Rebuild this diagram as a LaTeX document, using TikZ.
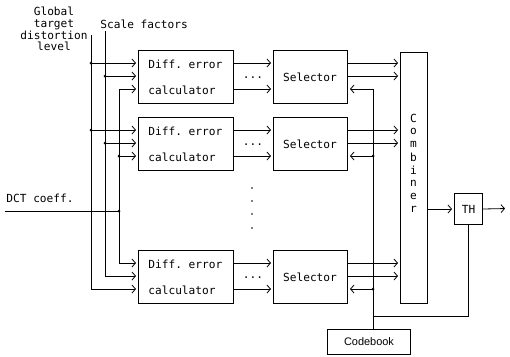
\documentclass[tikz,border=0pt]{standalone}
\usepackage{fontspec}
\setmonofont{DejaVu Sans Mono}
\setsansfont{Liberation Sans}
\usetikzlibrary{arrows.meta,calc}
\begin{document}
\begin{tikzpicture}[x=1bp,y=-1bp,
  line width=0.8bp,
  box/.style={draw, line width=1bp, inner sep=0pt, anchor=north west},
  txt/.style={font=\ttfamily\fontsize{11.2}{11.7}\selectfont, inner sep=0pt},
  arr/.style={-{Straight Barb[length=3.5bp,width=8bp,line width=0.8bp]}, shorten >=2bp},
  jdot/.style={circle, fill, inner sep=0pt, minimum size=3bp}]
\useasboundingbox (0,0) rectangle (510,356);

% three calculator / selector branches
\foreach \k/\t in {1/50,2/117,3/250}{
  \coordinate (ra\k) at (0,{\t+13});
  \coordinate (rb\k) at (0,{\t+26});
  \coordinate (rc\k) at (0,{\t+39});
  \node[box, minimum width=95bp, minimum height=53bp] (d\k) at (138,\t) {};
  \node[box, minimum width=74bp, minimum height=53bp] (s\k) at (273,\t) {};
  \node[txt, anchor=west] (dta\k) at (148,{\t+14}) {Diff. error};
  \node[txt, anchor=west] (dtb\k) at (148,{\t+40}) {calculator};
  \node[txt] (st\k) at (310,{\t+27.5}) {Selector};
  \node[txt] (el\k) at (253,{\t+28}) {...};
  \draw[arr] (d\k.east |- ra\k) -- (s\k.west |- ra\k);
  \draw[arr] (d\k.east |- rc\k) -- (s\k.west |- rc\k);
}

% vertical ellipsis between the branches
\foreach \y in {188,201,214,228} \fill (252,\y) circle (0.8bp);

% combiner
\node[box, minimum width=27bp, minimum height=251bp] (comb) at (400,52) {};
\foreach \c [count=\i from 0] in {C,o,m,b,i,n,e,r}
  \node[txt] at (413.5,{118+13.1*\i}) {\c};
\foreach \k in {1,2,3}{
  \draw[arr] (s\k.east |- ra\k) -- (comb.west |- ra\k);
  \draw[arr] (s\k.east |- rb\k) -- (comb.west |- rb\k);
}

% TH block
\node[box, minimum width=28bp, minimum height=31bp, font=\ttfamily\fontsize{11.2}{13}\selectfont] (th) at (454,193) {TH};
\coordinate (out) at (507,208.5);
\draw[arr] (comb.east |- th.west) -- (th.west);
\draw[arr] (th.east) -- (out);

% codebook and its bus
\node[box, minimum width=83bp, minimum height=25bp, font=\sffamily\fontsize{11}{13}\selectfont] (cb) at (327,329) {Codebook};
\coordinate (cbt) at (373,329);
\coordinate (bj) at (373,316);
\draw[arr] (cbt) -- (cbt |- rc1) -- (s1.east |- rc1);
\draw[arr] (cbt |- rc2) -- (s2.east |- rc2);
\draw[arr] (cbt |- rc3) -- (s3.east |- rc3);
\draw (bj) -- (bj -| th.south) -- (th.south);
\node[jdot] at (cbt |- rc2) {};
\node[jdot] at (cbt |- rc3) {};

% input lines
\node[txt, align=center] (gl) at (54,29) {Global\\target\\distortion\\level};
\node[txt, anchor=west] (sf) at (100,24) {Scale factors};
\node[txt, anchor=west] (dc) at (6,198) {DCT coeff.};
\coordinate (gtop) at (91,35);
\coordinate (stop) at (105,31);
\coordinate (dct) at (5,211);
\coordinate (dj) at (119,211);

\draw[arr] (gtop) -- (gtop |- rc3) -- (d3.west |- rc3);
\draw[arr] (gtop |- ra1) -- (d1.west |- ra1);
\draw[arr] (gtop |- ra2) -- (d2.west |- ra2);
\node[jdot] at (gtop |- ra1) {};
\node[jdot] at (gtop |- ra2) {};

\draw[arr] (stop) -- (stop |- rb3) -- (d3.west |- rb3);
\draw[arr] (stop |- rb1) -- (d1.west |- rb1);
\draw[arr] (stop |- rb2) -- (d2.west |- rb2);
\node[jdot] at (stop |- rb1) {};
\node[jdot] at (stop |- rb2) {};

\draw (dct) -- (dj);
\draw[arr] (dj) -- (dj |- rc1) -- (d1.west |- rc1);
\draw[arr] (dj) -- (dj |- ra3) -- (d3.west |- ra3);
\draw[arr] (dj |- rc2) -- (d2.west |- rc2);
\node[jdot] at (dj |- rc2) {};
\node[jdot] at (dj) {};
\end{tikzpicture}
\end{document}
